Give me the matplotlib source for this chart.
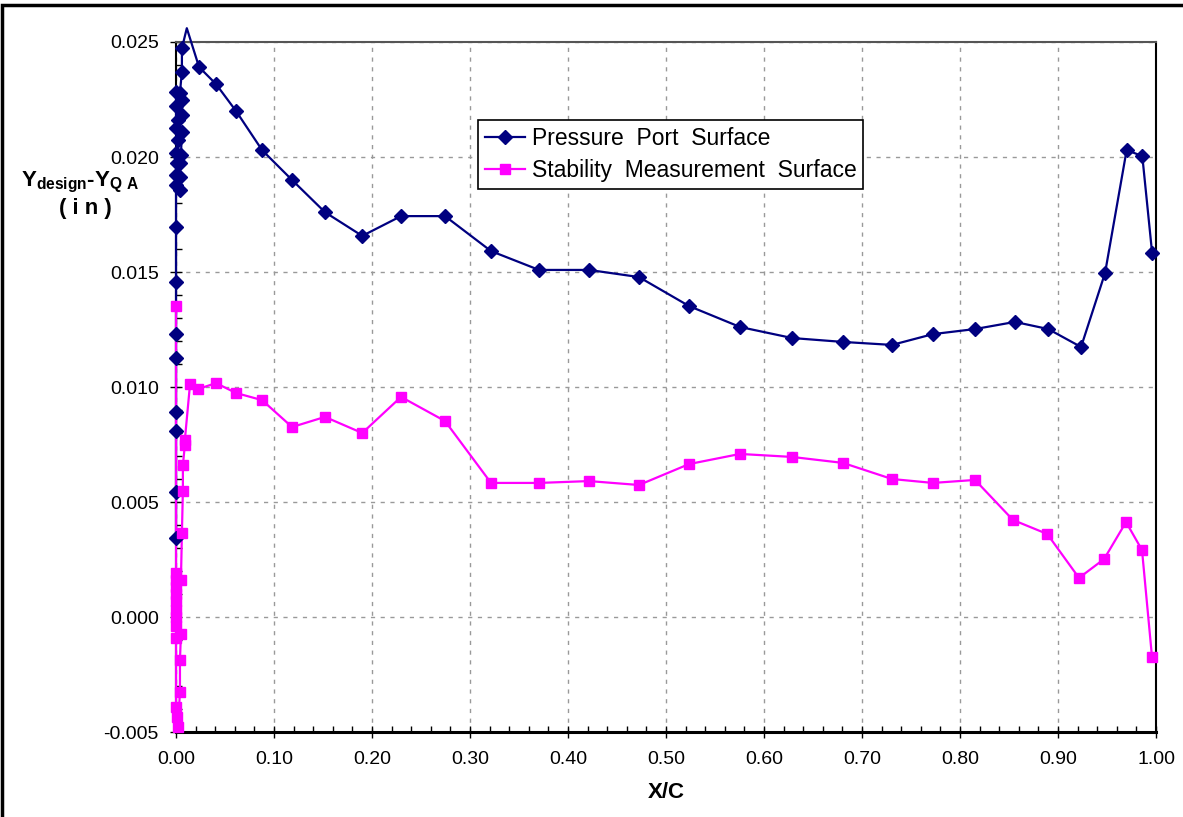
import matplotlib
matplotlib.use("Agg")
import matplotlib.pyplot as plt
from matplotlib.patches import Rectangle
from matplotlib.ticker import MultipleLocator, FormatStrFormatter

plt.rcParams['font.family'] = ['Liberation Sans', 'DejaVu Sans']
plt.rcParams['mathtext.fontset'] = 'custom'
plt.rcParams['mathtext.rm'] = 'Liberation Sans'
plt.rcParams['mathtext.bf'] = 'Liberation Sans:bold'

# Pressure port surface (leading edge cluster first, then chordwise)
port_x = [0.000, 0.000, 0.000, 0.000, 0.000, 0.000, 0.000, 0.000, 0.000, 0.000,
          0.001, 0.000, 0.002, 0.000, 0.000, 0.000,
          0.004, 0.004, 0.004, 0.005, 0.006, 0.002, 0.006, 0.006, 0.004, 0.006, 0.006,
          0.011, 0.0235, 0.0408, 0.0612, 0.0878, 0.1184, 0.152, 0.190, 0.2296, 0.2745,
          0.3214, 0.3704, 0.4214, 0.4724, 0.5235, 0.5755, 0.6286, 0.6806, 0.7306,
          0.7724, 0.8153, 0.856, 0.890, 0.9235, 0.948, 0.970, 0.986, 0.996]
port_y = [0.00343, 0.00545, 0.00810, 0.00893, 0.01126, 0.01230, 0.01458, 0.01697, 0.01878, 0.01922,
          0.01974, 0.02017, 0.02074, 0.02126, 0.02220, 0.02284,
          0.01857, 0.01914, 0.01974, 0.02009, 0.02110, 0.02161, 0.02183, 0.02248, 0.02280, 0.02371, 0.02473,
          0.02560, 0.02391, 0.02317, 0.02200, 0.02030, 0.01900, 0.01760, 0.01657, 0.01743, 0.01743,
          0.01591, 0.01509, 0.01509, 0.01478, 0.01352, 0.01261, 0.01213, 0.01196, 0.01183,
          0.01230, 0.01252, 0.01283, 0.01252, 0.01174, 0.01496, 0.02030, 0.02004, 0.01583]

# Stability measurement surface
stab_x = [0.000, 0.000, 0.0003, 0.000, 0.0003, 0.000, 0.000, 0.000, 0.000, 0.000,
          0.000, 0.0005, 0.002,
          0.004, 0.004, 0.005, 0.005, 0.006, 0.007, 0.007, 0.009, 0.009,
          0.0143, 0.0224, 0.0408, 0.0612, 0.0878, 0.1184, 0.152, 0.190, 0.2296, 0.2745,
          0.3214, 0.3704, 0.4214, 0.4724, 0.5235, 0.5755, 0.6286, 0.6806, 0.7306,
          0.7724, 0.8153, 0.854, 0.889, 0.9214, 0.947, 0.9694, 0.9857, 0.9959]
stab_y = [0.01352, 0.00190, 0.00160, 0.00130, 0.00100, 0.00070, 0.00030, 0.00000, -0.00040, -0.00090,
          -0.00390, -0.00434, -0.00480,
          -0.00325, -0.00187, -0.00075, 0.00161, 0.00365, 0.00550, 0.00660, 0.00748, 0.00770,
          0.01013, 0.00991, 0.01017, 0.00974, 0.00943, 0.00826, 0.00870, 0.00800, 0.00957, 0.00852,
          0.00583, 0.00583, 0.00591, 0.00574, 0.00665, 0.00709, 0.00696, 0.00670, 0.00600,
          0.00583, 0.00596, 0.00422, 0.00361, 0.00170, 0.00252, 0.00413, 0.00291, -0.00174]

navy = '#000080'
magenta = '#FF00FF'
ymin, ymax = -0.005, 0.025

fig = plt.figure(figsize=(11.83, 8.17), dpi=100)
ax = fig.add_axes([0.1488, 0.104, 0.8284, 0.8446])

# lines may run past the plot frame; markers only for points inside the range
ax.plot(port_x, port_y, '-', color=navy, lw=1.6, clip_on=False, zorder=3)
ax.plot(stab_x, stab_y, '-', color=magenta, lw=1.6, clip_on=False, zorder=3)
px_in = [(x, y) for x, y in zip(port_x, port_y) if ymin <= y <= ymax]
sx_in = [(x, y) for x, y in zip(stab_x, stab_y) if ymin <= y <= ymax]
ax.plot([p[0] for p in px_in], [p[1] for p in px_in], 'D', color=navy, ms=7.5,
        clip_on=False, zorder=4)
ax.plot([p[0] for p in sx_in], [p[1] for p in sx_in], 's', color=magenta, ms=7,
        clip_on=False, zorder=4)

# legend proxies
ax.plot([], [], '-D', color=navy, lw=1.6, ms=7.5, label='Pressure  Port  Surface')
ax.plot([], [], '-s', color=magenta, lw=1.6, ms=7, label='Stability  Measurement  Surface')
handles, labels = ax.get_legend_handles_labels()
leg = ax.legend(handles, labels, loc='upper left', bbox_to_anchor=(0.308, 0.887),
                fontsize=16.5, frameon=True, fancybox=False, framealpha=1,
                edgecolor='black', borderpad=0.3, handlelength=1.75,
                handletextpad=0.3, labelspacing=0.4, borderaxespad=0)
leg.get_frame().set_linewidth(1.2)

ax.set_xlim(0, 1.0)
ax.set_ylim(ymin, ymax)
ax.xaxis.set_major_locator(MultipleLocator(0.1))
ax.xaxis.set_minor_locator(MultipleLocator(0.02))
ax.yaxis.set_major_locator(MultipleLocator(0.005))
ax.yaxis.set_minor_locator(MultipleLocator(0.001))
ax.xaxis.set_major_formatter(FormatStrFormatter('%.2f'))
ax.yaxis.set_major_formatter(FormatStrFormatter('%.3f'))

ax.grid(True, which='major', color='#999999', linestyle=(0, (3, 4)), linewidth=1)
ax.tick_params(which='major', direction='inout', length=9, width=1, labelsize=14,
               color='black')
ax.tick_params(axis='x', which='major', pad=9)
ax.tick_params(axis='y', which='major', pad=8)
ax.tick_params(which='minor', direction='in', length=4, width=1)

for side in ['left', 'right']:
    ax.spines[side].set_linewidth(1.5)
ax.spines['bottom'].set_linewidth(2.2)
ax.spines['top'].set_linewidth(1.5)
ax.spines['top'].set_color('#555555')

ax.set_xlabel('X/C', fontsize=16, fontweight='bold', labelpad=10)

fig.text(0.068, 0.777, r'$\mathbf{Y}_{\mathbf{design}}$' + '-' + r'$\mathbf{Y}_{\mathbf{Q\ A}}$',
         fontsize=16, fontweight='bold', ha='center', va='center')
fig.text(0.072, 0.745, '( i n )', fontsize=16, fontweight='bold', ha='center', va='center')

# frame around the whole chart area
fig.patches.append(Rectangle((0.002, -0.05), 1.2, 1.044, transform=fig.transFigure,
                             fill=False, edgecolor='black', linewidth=2.5))

fig.savefig('out.png', dpi=100)
